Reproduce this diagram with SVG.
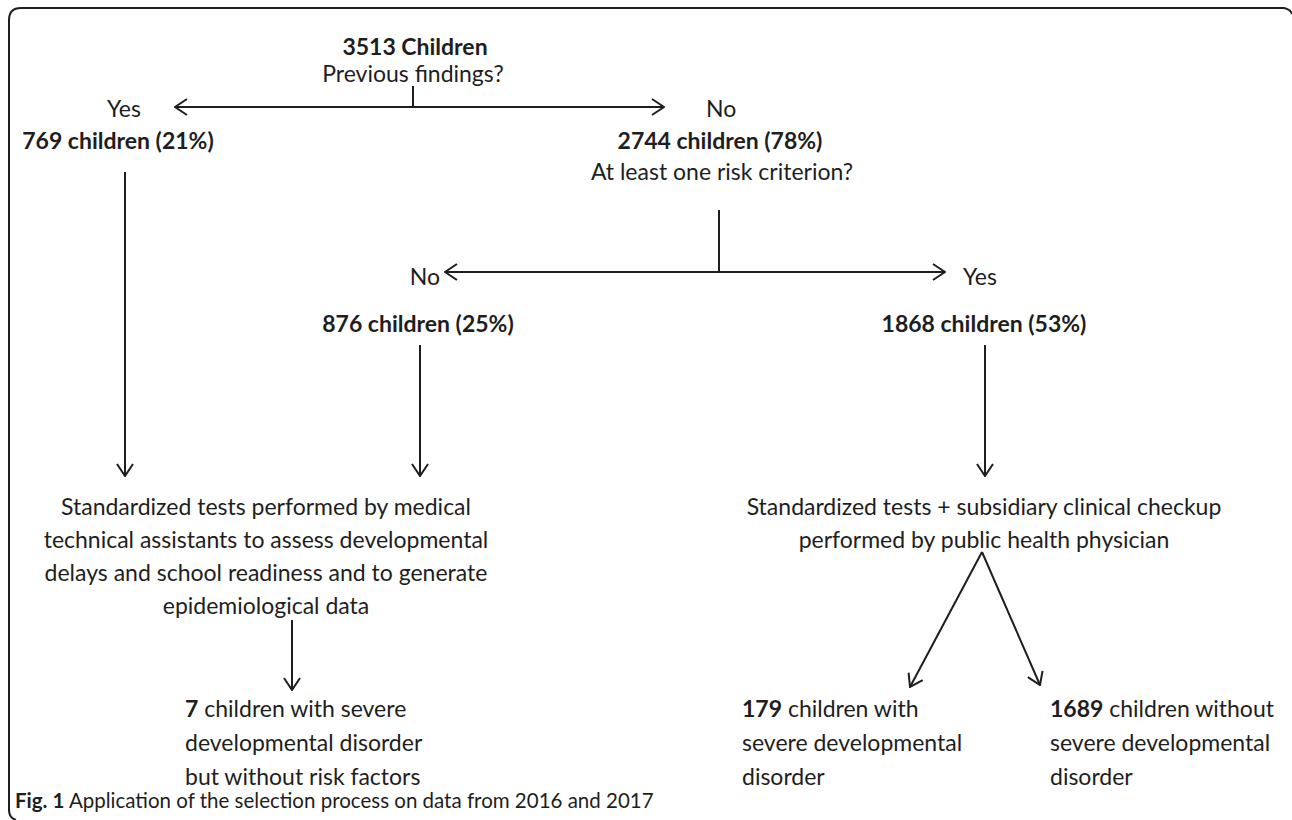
<svg xmlns="http://www.w3.org/2000/svg" width="1292" height="820" viewBox="0 0 1292 820">
<style>
text{font-family:Lato,"Open Sans","Liberation Sans",sans-serif;font-size:23px;fill:#1e1e1e}
.b{font-weight:bold}
.c{text-anchor:middle}
.e{text-anchor:end}
.cap{font-size:20.5px}
.ln{stroke:#1e1e1e;stroke-width:2;fill:none}
.ar{marker-end:url(#ah)}
.ar2{marker-start:url(#ah);marker-end:url(#ah)}
</style>
<defs>
<marker id="ah" viewBox="0 0 14 18" refX="13" refY="9" markerWidth="14" markerHeight="18" markerUnits="userSpaceOnUse" orient="auto-start-reverse">
<path d="M1,1 L13,9 L1,17" fill="none" stroke="#1e1e1e" stroke-width="2"/>
</marker>
</defs>
<rect width="1292" height="820" fill="#fff"/>
<path class="ln" d="M16 820 Q9 818 9 810 L9 20 Q9 8 21 8 L1284 8 Q1290 9 1292 14" stroke-width="1.6"/>

<g id="connectors">
<line class="ln" x1="413" y1="86" x2="413" y2="107"/>
<line class="ln ar2" x1="175" y1="107" x2="664" y2="107"/>
<line class="ln" x1="719" y1="210" x2="719" y2="272"/>
<line class="ln ar2" x1="445" y1="272" x2="945" y2="272"/>
<line class="ln ar" x1="125" y1="172" x2="125" y2="476"/>
<line class="ln ar" x1="420" y1="345" x2="420" y2="476"/>
<line class="ln ar" x1="985" y1="345" x2="985" y2="476"/>
<line class="ln ar" x1="292" y1="620" x2="292" y2="690"/>
<line class="ln ar" x1="982" y1="552" x2="910" y2="687"/>
<line class="ln ar" x1="982" y1="552" x2="1040" y2="685"/>
</g>

<g id="root">
<text class="b c" x="415" y="55">3513 Children</text>
<text class="c" x="413" y="82">Previous findings?</text>
</g>
<g id="yes1">
<text class="c" x="124" y="117">Yes</text>
<text class="b c" x="118" y="149">769 children (21%)</text>
</g>
<g id="no1">
<text x="706" y="117">No</text>
<text class="b c" x="720" y="149">2744 children (78%)</text>
<text class="c" x="722" y="180">At least one risk criterion?</text>
</g>
<g id="no2">
<text class="e" x="440" y="285">No</text>
<text class="b c" x="418" y="332">876 children (25%)</text>
</g>
<g id="yes2">
<text x="963" y="285">Yes</text>
<text class="b c" x="984" y="332">1868 children (53%)</text>
</g>
<g id="tests-left">
<text class="c" x="266" y="515">Standardized tests performed by medical</text>
<text class="c" x="266" y="548">technical assistants to assess developmental</text>
<text class="c" x="266" y="581">delays and school readiness and to generate</text>
<text class="c" x="266" y="614">epidemiological data</text>
</g>
<g id="tests-right">
<text class="c" x="984" y="515">Standardized tests + subsidiary clinical checkup</text>
<text class="c" x="984" y="548">performed by public health physician</text>
</g>
<g id="out-7">
<text x="185" y="717"><tspan class="b">7</tspan> children with severe</text>
<text x="185" y="751">developmental disorder</text>
<text x="185" y="785">but without risk factors</text>
</g>
<g id="out-179">
<text x="742" y="717"><tspan class="b">179</tspan> children with</text>
<text x="742" y="751">severe developmental</text>
<text x="742" y="785">disorder</text>
</g>
<g id="out-1689">
<text x="1050" y="717"><tspan class="b">1689</tspan> children without</text>
<text x="1050" y="751">severe developmental</text>
<text x="1050" y="785">disorder</text>
</g>
<g id="caption">
<text class="cap" x="15" y="808"><tspan class="b">Fig. 1</tspan> Application of the selection process on data from 2016 and 2017</text>
</g>
</svg>
